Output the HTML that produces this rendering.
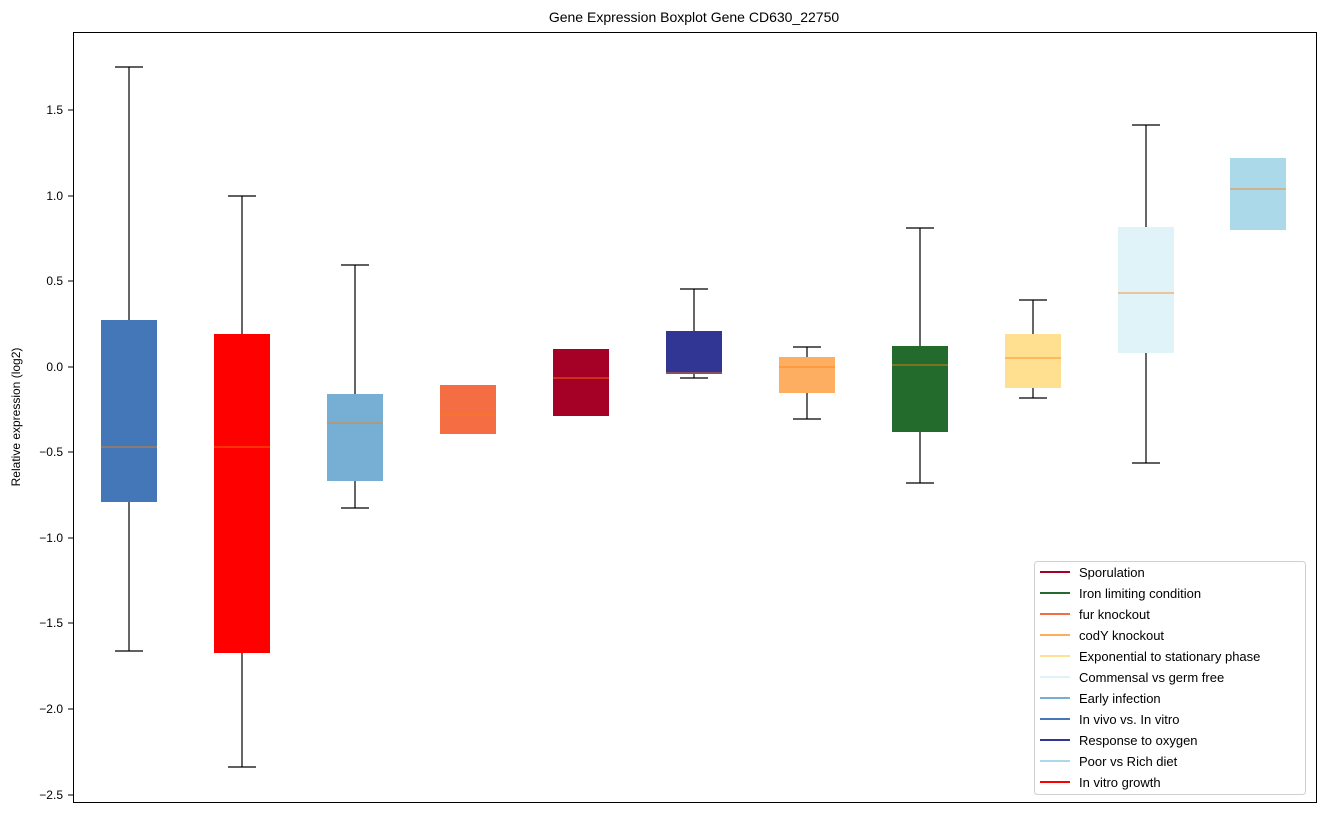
<!DOCTYPE html>
<html><head><meta charset="utf-8"><style>body{margin:0;background:#fff}svg{display:block;font-family:"Liberation Sans","DejaVu Sans",sans-serif}</style></head><body>
<svg width="1322" height="813" viewBox="0 0 1322 813" xmlns="http://www.w3.org/2000/svg">
<rect width="1322" height="813" fill="#fff"/>
<text x="694" y="22" font-size="14" text-anchor="middle">Gene Expression Boxplot Gene CD630_22750</text>
<g font-size="12" text-anchor="end" fill="#000">
<text x="63" y="114">1.5</text><text x="63" y="200">1.0</text><text x="63" y="285">0.5</text><text x="63" y="371">0.0</text>
<text x="63" y="456">−0.5</text><text x="63" y="542">−1.0</text><text x="63" y="627">−1.5</text><text x="63" y="713">−2.0</text><text x="63" y="799">−2.5</text>
</g>
<g stroke="#000"><line x1="68" x2="73" y1="110" y2="110"/><line x1="68" x2="73" y1="196" y2="196"/><line x1="68" x2="73" y1="281" y2="281"/><line x1="68" x2="73" y1="367" y2="367"/><line x1="68" x2="73" y1="452" y2="452"/><line x1="68" x2="73" y1="538" y2="538"/><line x1="68" x2="73" y1="623" y2="623"/><line x1="68" x2="73" y1="709" y2="709"/><line x1="68" x2="73" y1="795" y2="795"/></g>
<text transform="translate(20,417) rotate(-90)" font-size="12" text-anchor="middle">Relative expression (log2)</text>
<g stroke="#000" stroke-width="1.2">
<line x1="129" x2="129" y1="67" y2="651"/><line x1="115" x2="143" y1="67" y2="67"/><line x1="115" x2="143" y1="651" y2="651"/>
<line x1="242" x2="242" y1="196" y2="767"/><line x1="228" x2="256" y1="196" y2="196"/><line x1="228" x2="256" y1="767" y2="767"/>
<line x1="355" x2="355" y1="265" y2="508"/><line x1="341" x2="369" y1="265" y2="265"/><line x1="341" x2="369" y1="508" y2="508"/>
<line x1="694" x2="694" y1="289" y2="378"/><line x1="680" x2="708" y1="289" y2="289"/><line x1="680" x2="708" y1="378" y2="378"/>
<line x1="807" x2="807" y1="347" y2="419"/><line x1="793" x2="821" y1="347" y2="347"/><line x1="793" x2="821" y1="419" y2="419"/>
<line x1="920" x2="920" y1="228" y2="483"/><line x1="906" x2="934" y1="228" y2="228"/><line x1="906" x2="934" y1="483" y2="483"/>
<line x1="1033" x2="1033" y1="300" y2="398"/><line x1="1019" x2="1047" y1="300" y2="300"/><line x1="1019" x2="1047" y1="398" y2="398"/>
<line x1="1146" x2="1146" y1="125" y2="463"/><line x1="1132" x2="1160" y1="125" y2="125"/><line x1="1132" x2="1160" y1="463" y2="463"/>
</g>
<rect x="101" y="320" width="56" height="182" fill="#4477b8"/>
<rect x="214" y="334" width="56" height="319" fill="#ff0000"/>
<rect x="327" y="394" width="56" height="87" fill="#76aed4"/>
<rect x="440" y="385" width="56" height="49" fill="#f46d43"/>
<rect x="553" y="349" width="56" height="67" fill="#a50026"/>
<rect x="666" y="331" width="56" height="43" fill="#313695"/>
<rect x="779" y="357" width="56" height="36" fill="#fdae61"/>
<rect x="892" y="346" width="56" height="86" fill="#236b2d"/>
<rect x="1005" y="334" width="56" height="54" fill="#fee090"/>
<rect x="1118" y="227" width="56" height="126" fill="#e0f3f8"/>
<rect x="1230" y="158" width="56" height="72" fill="#abd9e9"/>
<g stroke="#ff7f0e" stroke-width="1" opacity="0.8">
<line x1="101" x2="157" y1="447" y2="447"/><line x1="214" x2="270" y1="447" y2="447"/><line x1="327" x2="383" y1="423" y2="423"/>
<line x1="440" x2="496" y1="415" y2="415"/><line x1="553" x2="609" y1="378" y2="378"/><line x1="666" x2="722" y1="373" y2="373"/>
<line x1="779" x2="835" y1="367" y2="367"/><line x1="892" x2="948" y1="365" y2="365"/><line x1="1005" x2="1061" y1="358" y2="358"/>
<line x1="1118" x2="1174" y1="293" y2="293"/><line x1="1230" x2="1286" y1="189" y2="189"/>
</g>
<rect x="73.5" y="32.5" width="1243" height="770" fill="none" stroke="#000"/>
<rect x="1034.5" y="561.5" width="271" height="233" rx="3" fill="#fff" stroke="#ccc" opacity="0.9"/>
<g font-size="13" stroke-width="2">
<line x1="1040" x2="1070" y1="572" y2="572" stroke="#a50026"/><text x="1079" y="577">Sporulation</text>
<line x1="1040" x2="1070" y1="593" y2="593" stroke="#236b2d"/><text x="1079" y="598">Iron limiting condition</text>
<line x1="1040" x2="1070" y1="614" y2="614" stroke="#f46d43"/><text x="1079" y="619">fur knockout</text>
<line x1="1040" x2="1070" y1="635" y2="635" stroke="#fdae61"/><text x="1079" y="640">codY knockout</text>
<line x1="1040" x2="1070" y1="656" y2="656" stroke="#fee090"/><text x="1079" y="661">Exponential to stationary phase</text>
<line x1="1040" x2="1070" y1="677" y2="677" stroke="#e0f3f8"/><text x="1079" y="682">Commensal vs germ free</text>
<line x1="1040" x2="1070" y1="698" y2="698" stroke="#76aed4"/><text x="1079" y="703">Early infection</text>
<line x1="1040" x2="1070" y1="719" y2="719" stroke="#4477b8"/><text x="1079" y="724">In vivo vs. In vitro</text>
<line x1="1040" x2="1070" y1="740" y2="740" stroke="#313695"/><text x="1079" y="745">Response to oxygen</text>
<line x1="1040" x2="1070" y1="761" y2="761" stroke="#abd9e9"/><text x="1079" y="766">Poor vs Rich diet</text>
<line x1="1040" x2="1070" y1="782" y2="782" stroke="#ff0000"/><text x="1079" y="787">In vitro growth</text>
</g>
</svg>
</body></html>
